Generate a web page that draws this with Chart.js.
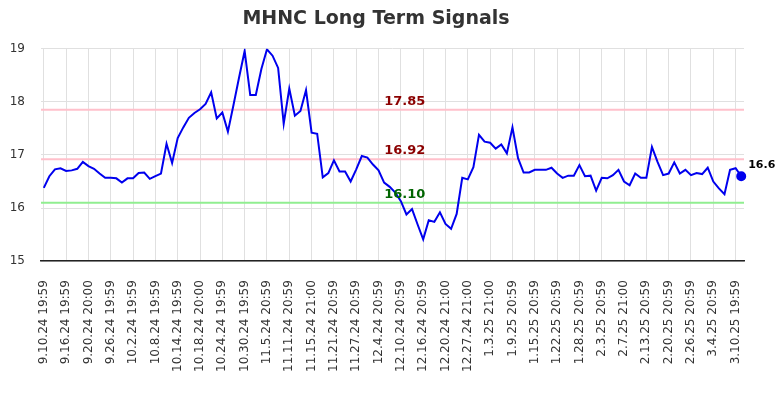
<!DOCTYPE html>
<html>
<head>
<meta charset="utf-8">
<script src="https://cdn.jsdelivr.net/npm/chart.js@4"></script>
<style>
  html, body { margin: 0; padding: 0; background: #fff; }
  #wrap { width: 784px; height: 400px; position: relative; }
</style>
</head>
<body>
<div id="wrap"><canvas id="chartSignals"></canvas></div>
<script>
// ── data ──────────────────────────────────────
const TICK_LABELS = [
  '9.10.24 19:59','9.16.24 19:59','9.20.24 20:00','9.26.24 19:59',
  '10.2.24 19:59','10.8.24 19:59','10.14.24 19:59','10.18.24 20:00',
  '10.24.24 19:59','10.30.24 19:59','11.5.24 20:59','11.11.24 20:59',
  '11.15.24 21:00','11.21.24 20:59','11.27.24 20:59','12.4.24 20:59',
  '12.10.24 20:59','12.16.24 20:59','12.20.24 21:00','12.27.24 21:00',
  '1.3.25 21:00','1.9.25 20:59','1.15.25 20:59','1.22.25 20:59',
  '1.28.25 20:59','2.3.25 20:59','2.7.25 21:00','2.13.25 20:59',
  '2.20.25 20:59','2.26.25 20:59','3.4.25 20:59','3.10.25 19:59'
];
const TICK_EVERY = 4;   // one labelled tick every 4 sessions

const SIGNAL_VALUES = [
  16.38,16.60,16.73,16.75,16.70,16.71,16.74,16.87,16.79,16.74,
  16.65,16.57,16.57,16.56,16.48,16.56,16.56,16.66,16.67,16.55,
  16.60,16.65,17.21,16.85,17.32,17.52,17.70,17.79,17.86,17.96,
  18.18,17.69,17.80,17.44,17.94,18.46,18.96,18.13,18.13,18.62,
  18.99,18.87,18.64,17.59,18.25,17.74,17.83,18.22,17.42,17.40,
  16.58,16.66,16.90,16.69,16.69,16.50,16.73,16.98,16.95,16.82,
  16.71,16.48,16.40,16.29,16.13,15.88,15.98,15.69,15.41,15.77,
  15.74,15.92,15.70,15.61,15.89,16.57,16.54,16.77,17.38,17.25,
  17.23,17.12,17.20,17.03,17.52,16.94,16.67,16.67,16.72,16.72,
  16.72,16.76,16.65,16.57,16.61,16.61,16.81,16.60,16.61,16.33,
  16.57,16.56,16.62,16.72,16.50,16.43,16.65,16.57,16.57,17.15,
  16.87,16.62,16.65,16.86,16.65,16.72,16.62,16.66,16.64,16.76,
  16.50,16.37,16.26,16.72,16.75,16.60
];

const LEVELS      = [17.85, 16.92, 16.10];
const LEVEL_LINES = ['#ffc0cb', '#ffc0cb', '#90ee90'];
const LEVEL_TEXT  = ['#8b0000', '#8b0000', '#006400'];
const LEVEL_LABEL_AT = 61;  // category index where level labels start

const LAST_LABEL = '16.6';

// category labels: only every 4th session carries a visible tick
const labels = SIGNAL_VALUES.map((_, i) => i % TICK_EVERY === 0 ? (TICK_LABELS[i / TICK_EVERY] || '') : '');
const lastIdx = SIGNAL_VALUES.length - 1;

const FONT = 'DejaVu Sans';

// horizontal signal levels + end label
const levelsPlugin = {
  id: 'levels',
  beforeDatasetsDraw(chart) {
    const { ctx, chartArea, scales: { y } } = chart;
    ctx.save();
    LEVELS.forEach((v, k) => {
      const py = y.getPixelForValue(v);
      ctx.strokeStyle = LEVEL_LINES[k];
      ctx.lineWidth = 2;
      ctx.beginPath();
      ctx.moveTo(chartArea.left, py);
      ctx.lineTo(chartArea.right, py);
      ctx.stroke();
    });
    ctx.restore();
  },
  afterDatasetsDraw(chart) {
    const { ctx, scales: { x, y } } = chart;
    ctx.save();
    ctx.font = 'bold 13px ' + FONT;
    ctx.textAlign = 'left';
    ctx.textBaseline = 'bottom';
    LEVELS.forEach((v, k) => {
      ctx.fillStyle = LEVEL_TEXT[k];
      ctx.fillText(v.toFixed(2), x.getPixelForValue(LEVEL_LABEL_AT), y.getPixelForValue(v) - 2);
    });
    const pt = chart.getDatasetMeta(0).data[lastIdx];
    ctx.font = 'bold 11px ' + FONT;
    ctx.fillStyle = '#000';
    ctx.textBaseline = 'middle';
    ctx.fillText(LAST_LABEL, pt.x + 7, pt.y - 11);
    ctx.restore();
  }
};

const ctx = document.getElementById('chartSignals').getContext('2d');
new Chart(ctx, {
  type: 'line',
  data: {
    labels,
    datasets: [{
      data: SIGNAL_VALUES,
      borderColor: '#0000ee',
      backgroundColor: '#0000ee',
      borderWidth: 2,
      tension: 0,
      pointRadius: c => c.dataIndex === lastIdx ? 4 : 0,
      pointHoverRadius: 0,
      fill: false
    }]
  },
  options: {
    responsive: true, maintainAspectRatio: false, animation: false,
    layout: { padding: { left: 8, right: 40, bottom: 9 } },
    plugins: {
      legend: { display: false },
      tooltip: { enabled: false },
      title: {
        display: true,
        text: 'MHNC Long Term Signals',
        color: '#333',
        font: { family: FONT, size: 19, weight: 'bold' },
        padding: { top: 8, bottom: 18 }
      }
    },
    scales: {
      x: {
        offset: true,
        grid: { offset: false, color: '#e0e0e0', drawTicks: false },
        border: { display: true, color: '#222', width: 1.5 },
        ticks: {
          autoSkip: false, maxRotation: 90, minRotation: 90, padding: 19,
          color: '#333', font: { family: FONT, size: 12 },
          callback: function (v) { return this.getLabelForValue(v) || null; }
        },
        afterFit: s => { s.paddingLeft = 0; }
      },
      y: {
        min: 15, max: 19,
        grid: { color: '#e0e0e0', drawTicks: false },
        border: { display: false },
        ticks: { stepSize: 1, padding: 16, color: '#333', font: { family: FONT, size: 12 } },
        afterFit: s => { s.width = 33; }
      }
    }
  },
  plugins: [levelsPlugin]
});
</script>
</body>
</html>
